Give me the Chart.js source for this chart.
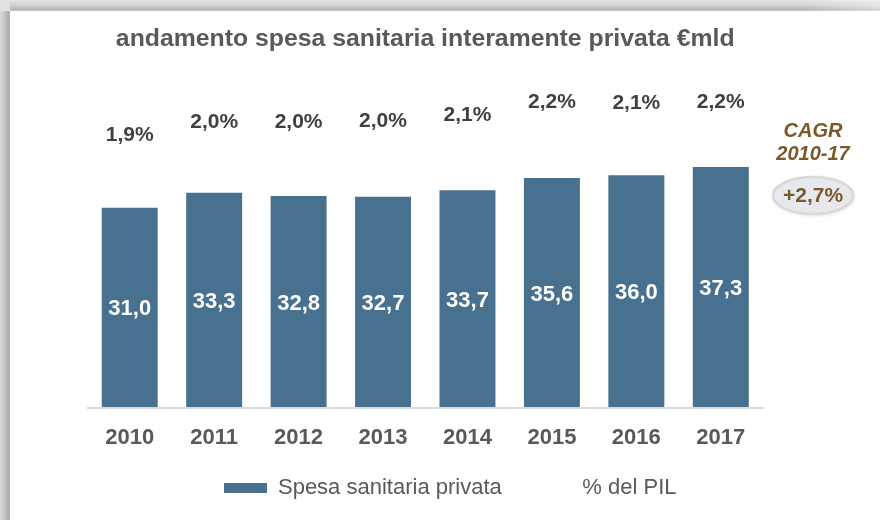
<!DOCTYPE html>
<html><head><meta charset="utf-8">
<script src="https://cdn.jsdelivr.net/npm/chart.js@4.4.1/dist/chart.umd.min.js"></script>
<style>html,body{margin:0;padding:0;background:#fff;}#wrap{width:880px;height:520px;position:relative;}</style>
</head><body><div id="wrap"><canvas id="c" width="880" height="520"></canvas></div>
<script>
const titleText = 'andamento spesa sanitaria interamente privata €mld';
const years = ['2010','2011','2012','2013','2014','2015','2016','2017'];
const spesaPrivata = [31.0, 33.3, 32.8, 32.7, 33.7, 35.6, 36.0, 37.3];
const pilPct = [1.90, 2.00, 2.00, 2.01, 2.06, 2.155, 2.145, 2.16];
const seriesNames = ['Spesa sanitaria privata', '% del PIL'];
const cagrTitle = ['CAGR', '2010-17'];
const cagrValue = '+2,7%';

const fmt = v => v.toFixed(1).replace('.', ',');
const SANS = "'Liberation Sans', Arial, sans-serif";

const framePlugin = {
  id: 'frame',
  beforeDraw(chart) {
    const ctx = chart.ctx;
    ctx.save();
    ctx.fillStyle = '#ffffff';
    ctx.fillRect(0, 0, chart.width, chart.height);
    let g = ctx.createLinearGradient(0, 0, 0, 11);
    g.addColorStop(0, '#e4e4e4'); g.addColorStop(0.5, '#d0d0d0');
    g.addColorStop(0.85, '#b6b6b6'); g.addColorStop(1, '#c6c6c6');
    ctx.fillStyle = g; ctx.fillRect(0, 0, chart.width, 11);
    let h = ctx.createLinearGradient(800, 0, 880, 0);
    h.addColorStop(0, 'rgba(255,255,255,0)'); h.addColorStop(1, 'rgba(255,255,255,0.45)');
    ctx.fillStyle = h; ctx.fillRect(800, 0, 80, 11);
    let g2 = ctx.createLinearGradient(0, 0, 10, 0);
    g2.addColorStop(0, '#dadada'); g2.addColorStop(0.5, '#c4c4c4');
    g2.addColorStop(0.85, '#acacac'); g2.addColorStop(1, '#bebebe');
    ctx.fillStyle = g2; ctx.fillRect(0, 11, 10, chart.height - 11);
    ctx.fillStyle = '#e2e2e2'; ctx.fillRect(0, 0, 10, 11);
    ctx.restore();
  }
};

const legendShift = {
  id: 'legendShift',
  afterLayout(chart) {
    if (chart.legend) { chart.legend.left += 25; chart.legend.right += 25; }
  }
};

const labelsPlugin = {
  id: 'valueLabels',
  afterDatasetsDraw(chart) {
    const ctx = chart.ctx;
    ctx.save();
    ctx.textAlign = 'center';
    ctx.textBaseline = 'middle';
    ctx.fillStyle = '#ffffff';
    ctx.font = 'bold 22px ' + SANS;
    chart.getDatasetMeta(0).data.forEach((bar, i) => {
      const p = bar.getProps(['x', 'y', 'base'], true);
      ctx.fillText(fmt(spesaPrivata[i]), p.x, (p.y + p.base) / 2 + 1.5);
    });
    ctx.fillStyle = '#404040';
    ctx.font = 'bold 21px ' + SANS;
    chart.getDatasetMeta(1).data.forEach((pt, i) => {
      const p = pt.getProps(['x', 'y'], true);
      ctx.fillText(fmt(pilPct[i]) + '%', p.x, p.y);
    });
    ctx.restore();
  }
};

const cagrPlugin = {
  id: 'cagr',
  afterDraw(chart) {
    const ctx = chart.ctx;
    const a = chart.chartArea;
    const cx = a.right + 50;
    ctx.save();
    ctx.textAlign = 'center';
    ctx.textBaseline = 'middle';
    ctx.fillStyle = '#7a5a28';
    ctx.font = 'italic bold 20px ' + SANS;
    ctx.fillText(cagrTitle[0], cx, a.top + 61.5);
    ctx.fillText(cagrTitle[1], cx, a.top + 84);
    const ey = a.top + 125.5;
    ctx.shadowColor = 'rgba(0,0,0,0.18)';
    ctx.shadowBlur = 4; ctx.shadowOffsetX = 1; ctx.shadowOffsetY = 1;
    ctx.beginPath();
    ctx.ellipse(cx, ey, 40, 18.5, 0, 0, Math.PI * 2);
    ctx.fillStyle = '#e7e7ee';
    ctx.fill();
    ctx.shadowColor = 'transparent';
    ctx.lineWidth = 2.5;
    ctx.strokeStyle = '#d8d8d8';
    ctx.stroke();
    ctx.fillStyle = '#7a5a28';
    ctx.font = 'bold 21px ' + SANS;
    ctx.fillText(cagrValue, cx, ey + 1);
    ctx.restore();
  }
};

new Chart(document.getElementById('c'), {
  type: 'bar',
  data: {
    labels: years,
    datasets: [
      {
        label: seriesNames[0],
        data: spesaPrivata,
        backgroundColor: '#47718f',
        borderWidth: 0,
        categoryPercentage: 1,
        barPercentage: 0.663,
        yAxisID: 'y'
      },
      {
        type: 'line',
        label: seriesNames[1],
        data: pilPct,
        yAxisID: 'y1',
        showLine: false,
        pointRadius: 0,
        borderColor: 'transparent',
        backgroundColor: 'transparent'
      }
    ]
  },
  options: {
    responsive: false,
    animation: false,
    devicePixelRatio: 1,
    layout: { padding: { left: 87.5, right: 117, top: 12, bottom: 11 } },
    plugins: {
      title: {
        display: true,
        text: titleText,
        color: '#595959',
        font: { family: SANS, size: 24.8, weight: 'bold', lineHeight: 1.2 },
        padding: { top: 12.5, bottom: 15.74 }
      },
      legend: {
        display: true,
        position: 'bottom',
        labels: {
          color: '#595959',
          font: { family: SANS, size: 22 },
          boxWidth: 43,
          boxHeight: 10,
          padding: 26.6
        }
      },
      tooltip: { enabled: false }
    },
    scales: {
      x: {
        grid: { display: false, drawTicks: false },
        border: { display: true, color: '#d9d9d9', width: 2, z: 1 },
        ticks: { color: '#595959', font: { family: SANS, size: 22, weight: 'bold' }, padding: 17 },
        afterFit(scale) { scale.height = 42.4; }
      },
      y: { display: false, min: 0, max: 52.3 },
      y1: { display: false, position: 'right', min: -0.196, max: 2.404 }
    }
  },
  plugins: [framePlugin, legendShift, labelsPlugin, cagrPlugin]
});
</script>
</body></html>
